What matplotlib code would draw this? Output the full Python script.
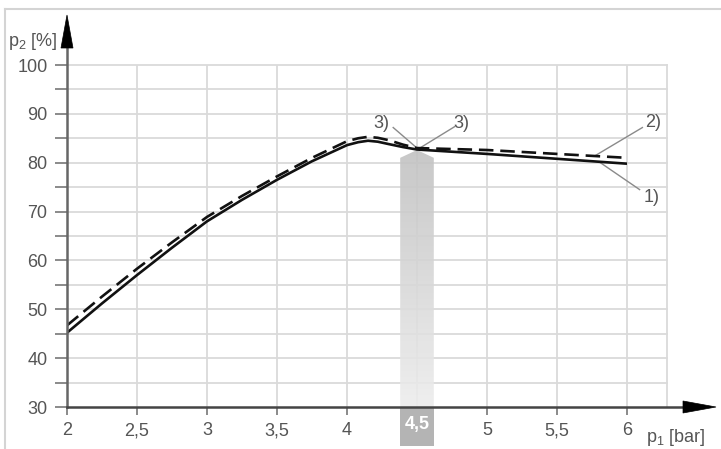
import matplotlib
matplotlib.use("Agg")
import matplotlib.pyplot as plt
import numpy as np
from matplotlib.patches import Polygon, Rectangle
from matplotlib.lines import Line2D
from matplotlib.colors import LinearSegmentedColormap

# ---------------- data ----------------
p1 = [2.0, 2.25, 2.5, 2.75, 3.0, 3.25, 3.5, 3.75, 4.0, 4.08, 4.15, 4.22, 4.3, 4.4, 4.5, 5.0, 5.5, 6.0]
curve1 = [45.2, 51.2, 57.0, 62.6, 68.0, 72.4, 76.5, 80.3, 83.6, 84.2, 84.5, 84.3, 83.8, 83.2, 82.7, 81.8, 80.8, 79.8]
curve2 = [46.7, 52.6, 58.3, 63.7, 68.9, 73.2, 77.2, 81.0, 84.4, 85.0, 85.3, 85.1, 84.6, 83.7, 83.0, 82.6, 81.8, 81.0]
x_ticks = [2, 2.5, 3, 3.5, 4, 4.5, 5, 5.5, 6]
x_tick_labels = ["2", "2,5", "3", "3,5", "4", "", "5", "5,5", "6"]
y_ticks = [30, 40, 50, 60, 70, 80, 90, 100]
highlight_x = 4.5
highlight_label = "4,5"

plt.rcParams['font.family'] = ['Liberation Sans', 'DejaVu Sans']
plt.rcParams['mathtext.fontset'] = 'custom'
plt.rcParams['mathtext.rm'] = 'Liberation Sans'

W, H = 721, 449
fig = plt.figure(figsize=(W / 100, H / 100), dpi=100)

def fp(x, y):
    return (x / W, 1 - y / H)

ax_l, ax_b = fp(67, 407)
ax_r, ax_t = fp(667, 65)
ax = fig.add_axes([ax_l, ax_b, ax_r - ax_l, ax_t - ax_b])
ax.set_xlim(2, 6.2857)
ax.set_ylim(30, 100)

txt = '#555555'
gridc = '#dadada'

# grid
for v in np.arange(2, 6.01, 0.5):
    ax.axvline(v, color=gridc, lw=1.3, zorder=1)
ax.axvline(6.2857, color=gridc, lw=1.3, zorder=1, clip_on=False)
for v in np.arange(35, 100.1, 5):
    ax.axhline(v, color=gridc, lw=1.3, zorder=1, clip_on=False)

for s in ax.spines.values():
    s.set_visible(False)

# ticks
ax.set_xticks(x_ticks)
ax.set_xticklabels(x_tick_labels)
ax.set_yticks(y_ticks)
ax.set_yticks(np.arange(35, 100, 10), minor=True)
ax.tick_params(axis='y', which='both', length=9, width=1.2, color='#777777',
               labelsize=13, labelcolor=txt, pad=5)
ax.tick_params(axis='x', which='both', length=6, width=1.2, color='#777777',
               labelsize=13, labelcolor=txt, pad=5)

# highlight band with gradient (dark at top, light at bottom)
bx0, bx1 = highlight_x - 0.12, highlight_x + 0.12
ypeak, yshoulder = 82.6, 81.0
verts = [(bx0, 30), (bx0, yshoulder), (highlight_x, ypeak), (bx1, yshoulder), (bx1, 30)]
poly = Polygon(verts, closed=True, facecolor='none', edgecolor='none')
ax.add_patch(poly)
grad = np.linspace(0, 1, 256).reshape(-1, 1)
cmap = LinearSegmentedColormap.from_list('g', ['#c2c2c2', '#ededed'])
im = ax.imshow(grad, cmap=cmap, extent=[bx0, bx1, 30, ypeak], aspect='auto',
               zorder=1.2, alpha=0.9, origin='upper')
im.set_clip_path(poly)

# box under axis
bl, _ = ax.transData.transform((bx0, 30))
br, _ = ax.transData.transform((bx1, 30))
rect = Rectangle((bl / W, (H - 446) / H), (br - bl) / W, (446 - 407) / H,
                 transform=fig.transFigure, facecolor='#b4b4b4', edgecolor='none', zorder=3)
fig.add_artist(rect)
fig.text(((bl + br) / 2) / W, 1 - 425 / H, highlight_label, color='white', fontsize=13,
         fontweight='bold', ha='center', va='center', zorder=4)

# curves
ax.plot(p1, curve1, color='#111111', lw=1.9, zorder=5, solid_capstyle='butt')
ax.plot(p1, curve2, color='#111111', lw=1.9, zorder=5, linestyle=(0, (5.5, 2.6)))

# annotations
lc = '#8a8a8a'
ax.plot([4.33, 4.5], [87.2, 83.0], color=lc, lw=1.0, zorder=4)
ax.plot([4.77, 4.52], [87.4, 83.0], color=lc, lw=1.0, zorder=4)
ax.plot([6.11, 5.77], [87.2, 81.4], color=lc, lw=1.0, zorder=4, clip_on=False)
ax.plot([6.09, 5.81], [74.5, 80.0], color=lc, lw=1.0, zorder=4, clip_on=False)
ax.text(4.30, 88.0, "3)", fontsize=13, color=txt, ha='right', va='center')
ax.text(4.76, 88.0, "3)", fontsize=13, color=txt, ha='left', va='center')
ax.text(6.13, 88.2, "2)", fontsize=13, color=txt, ha='left', va='center')
ax.text(6.12, 72.9, "1)", fontsize=13, color=txt, ha='left', va='center')

# axis lines with arrows
axc = '#444444'
fig.add_artist(Line2D([fp(67, 0)[0]] * 2, [fp(0, 407)[1], fp(0, 40)[1]],
                      transform=fig.transFigure, color='#666666', lw=1.8, zorder=6))
fig.add_artist(Line2D([fp(67, 0)[0], fp(690, 0)[0]], [fp(0, 407)[1]] * 2,
                      transform=fig.transFigure, color=axc, lw=1.8, zorder=6))
ya = Polygon([fp(67, 15), fp(61, 48), fp(73, 48)], closed=True, transform=fig.transFigure,
             facecolor='black', edgecolor='black', lw=0.5, zorder=7)
xa = Polygon([fp(716, 407), fp(683, 401), fp(683, 413)], closed=True, transform=fig.transFigure,
             facecolor='black', edgecolor='black', lw=0.5, zorder=7)
fig.add_artist(ya)
fig.add_artist(xa)

# axis titles
fig.text(57 / W, 1 - 42 / H, r"p$_\mathregular{2}$ [%]", fontsize=13, color=txt,
         ha='right', va='center')
fig.text(705 / W, 1 - 438 / H, r"p$_\mathregular{1}$ [bar]", fontsize=13, color=txt,
         ha='right', va='center')

# frame border (top/left)
bc = '#d4d4d4'
fig.add_artist(Line2D([5 / W, 720 / W], [1 - 9 / H] * 2, transform=fig.transFigure,
                      color=bc, lw=1.5))
fig.add_artist(Line2D([5 / W] * 2, [1 - 9 / H, 0], transform=fig.transFigure,
                      color=bc, lw=1.5))

fig.savefig("out.png", dpi=100)
